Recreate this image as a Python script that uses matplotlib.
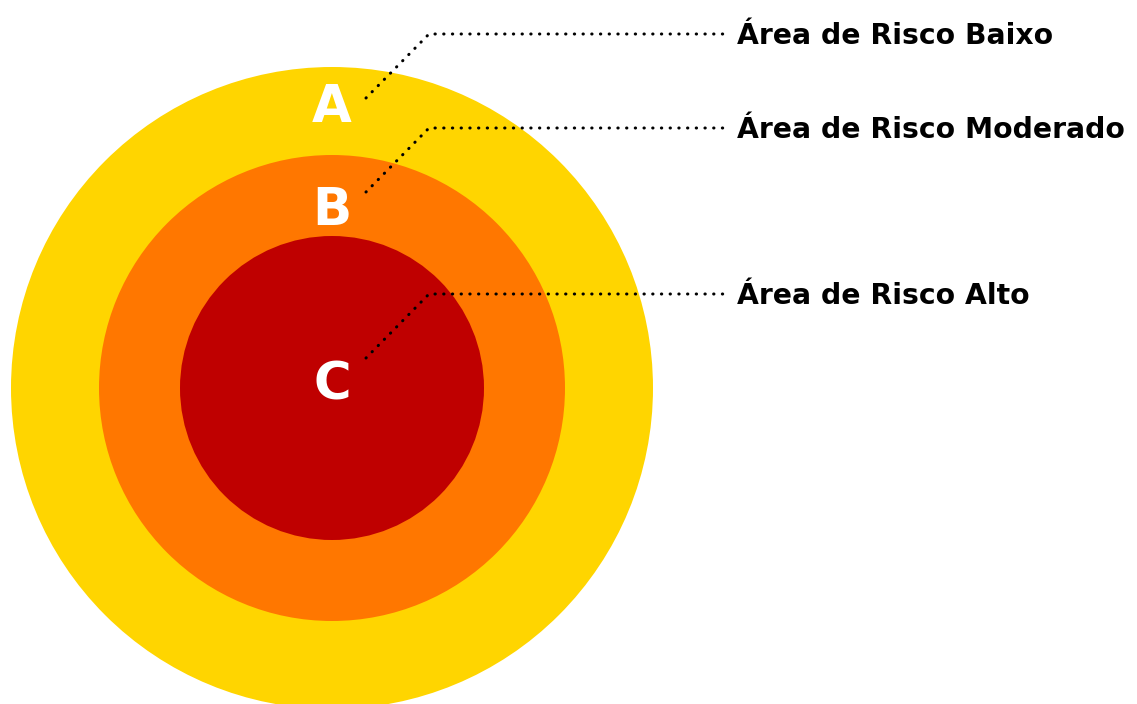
import matplotlib
matplotlib.use("Agg")
import matplotlib.pyplot as plt
from matplotlib.patches import Circle

# rings, outer to inner (pixel units of the 1137x704 picture)
center = (332, 388)
radii = [321, 233, 152]
colors = ["#FFD500", "#FF7700", "#BF0000"]
letters = ["A", "B", "C"]
letter_y = [122, 225, 399]

labels = ["Área de Risco Baixo", "Área de Risco Moderado", "Área de Risco Alto"]
leader_start = [(366, 98), (366, 192), (366, 358)]
leader_corner = [(429, 34), (429, 128), (429, 294)]
leader_end_x = 728
label_x = 737

fig = plt.figure(figsize=(11.37, 7.04), dpi=100)
ax = fig.add_axes([0, 0, 1, 1])
ax.set_xlim(0, 1137)
ax.set_ylim(704, 0)
ax.set_aspect("equal")
ax.axis("off")

for r, c in zip(radii, colors):
    ax.add_patch(Circle(center, r, color=c, lw=0))

for l, y in zip(letters, letter_y):
    ax.text(center[0], y, l, color="white", fontsize=37, fontweight="bold",
            family="DejaVu Sans", ha="center", va="baseline")

for s, k, lab in zip(leader_start, leader_corner, labels):
    ax.plot([s[0], k[0], leader_end_x], [s[1], k[1], k[1]], color="black",
            lw=2.2, linestyle=(0, (0.1, 2.75)), dash_capstyle="round")
    ax.text(label_x, k[1] + 10, lab, fontsize=20.3, fontweight="bold",
            family="DejaVu Sans", ha="left", va="baseline")

fig.savefig("out.png", dpi=100)
